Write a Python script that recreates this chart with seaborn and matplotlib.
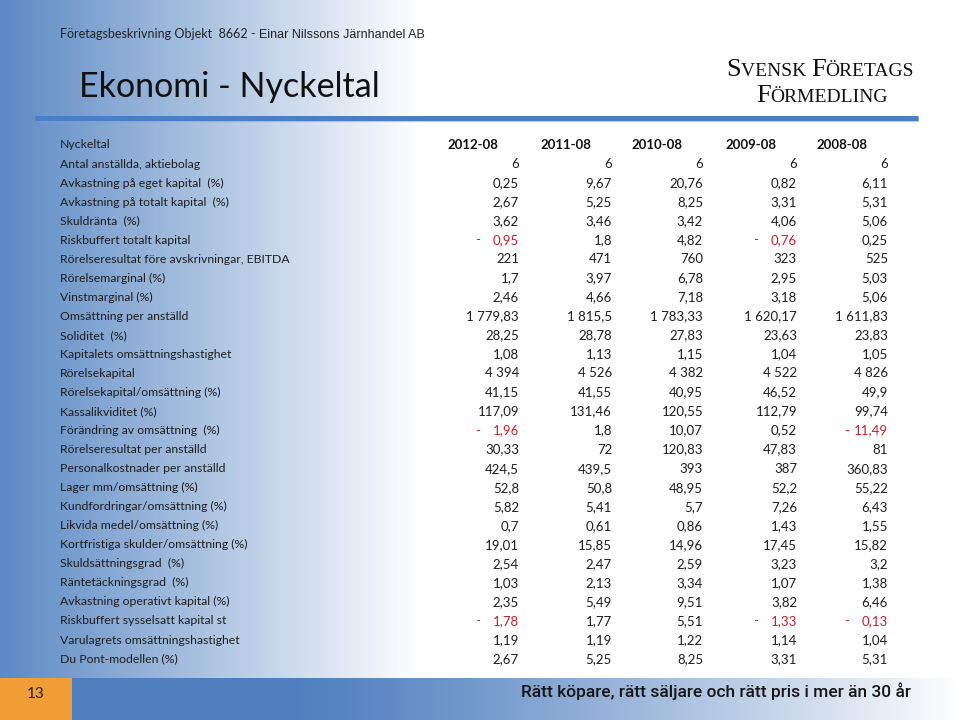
import numpy as np
import pandas as pd
import matplotlib
matplotlib.use("Agg")
import matplotlib.pyplot as plt
import seaborn as sns

# table data
years = ['2012-08', '2011-08', '2010-08', '2009-08', '2008-08']
labels = [
    'Antal anställda, aktiebolag',
    'Avkastning på eget kapital  (%)',
    'Avkastning på totalt kapital  (%)',
    'Skuldränta  (%)',
    'Riskbuffert totalt kapital',
    'Rörelseresultat före avskrivningar, EBITDA',
    'Rörelsemarginal (%)',
    'Vinstmarginal (%)',
    'Omsättning per anställd',
    'Soliditet  (%)',
    'Kapitalets omsättningshastighet',
    'Rörelsekapital',
    'Rörelsekapital/omsättning (%)',
    'Kassalikviditet (%)',
    'Förändring av omsättning  (%)',
    'Rörelseresultat per anställd',
    'Personalkostnader per anställd',
    'Lager mm/omsättning (%)',
    'Kundfordringar/omsättning (%)',
    'Likvida medel/omsättning (%)',
    'Kortfristiga skulder/omsättning (%)',
    'Skuldsättningsgrad  (%)',
    'Räntetäckningsgrad  (%)',
    'Avkastning operativt kapital (%)',
    'Riskbuffert sysselsatt kapital st',
    'Varulagrets omsättningshastighet',
    'Du Pont-modellen (%)',
]
v2012 = [6, 0.25, 2.67, 3.62, -0.95, 221, 1.7, 2.46, 1779.83, 28.25, 1.08, 4394, 41.15, 117.09,
         -1.96, 30.33, 424.5, 52.8, 5.82, 0.7, 19.01, 2.54, 1.03, 2.35, -1.78, 1.19, 2.67]
v2011 = [6, 9.67, 5.25, 3.46, 1.8, 471, 3.97, 4.66, 1815.5, 28.78, 1.13, 4526, 41.55, 131.46,
         1.8, 72, 439.5, 50.8, 5.41, 0.61, 15.85, 2.47, 2.13, 5.49, 1.77, 1.19, 5.25]
v2010 = [6, 20.76, 8.25, 3.42, 4.82, 760, 6.78, 7.18, 1783.33, 27.83, 1.15, 4382, 40.95, 120.55,
         10.07, 120.83, 393, 48.95, 5.7, 0.86, 14.96, 2.59, 3.34, 9.51, 5.51, 1.22, 8.25]
v2009 = [6, 0.82, 3.31, 4.06, -0.76, 323, 2.95, 3.18, 1620.17, 23.63, 1.04, 4522, 46.52, 112.79,
         0.52, 47.83, 387, 52.2, 7.26, 1.43, 17.45, 3.23, 1.07, 3.82, -1.33, 1.14, 3.31]
v2008 = [6, 6.11, 5.31, 5.06, 0.25, 525, 5.03, 5.06, 1611.83, 23.83, 1.05, 4826, 49.9, 99.74,
         -11.49, 81, 360.83, 55.22, 6.43, 1.55, 15.82, 3.2, 1.38, 6.46, -0.13, 1.04, 5.31]

df = pd.DataFrame({'Nyckeltal': labels, years[0]: v2012, years[1]: v2011,
                   years[2]: v2010, years[3]: v2009, years[4]: v2008})

sns.set_theme(style="white")
plt.rcParams['font.family'] = ['Lato', 'DejaVu Sans']


def fmt_sv(v):
    # swedish style: space as thousands separator, comma as decimal
    s = f"{abs(v):,.2f}".rstrip('0').rstrip('.')
    return s.replace(',', ' ').replace('.', ',')


fig = plt.figure(figsize=(9.6, 7.2), dpi=100)
ax = fig.add_axes([0, 0, 1, 1])
ax.set_xlim(0, 960)
ax.set_ylim(720, 0)
ax.axis('off')

# background: blue gradient fading to white on the left side
blue = np.array([0.36, 0.54, 0.77])
xs = np.linspace(0, 960, 960)
t = np.clip(xs / 420, 0, 1)
row = blue[None, :] * (1 - t[:, None]) + t[:, None]
ax.imshow(np.tile(row[None, :, :], (2, 1, 1)), extent=(0, 960, 720, 0), aspect='auto', zorder=0)

# horizontal rule under the title
ax.plot([36, 919], [120, 120], color='#9a9a9a', lw=3, alpha=0.5, solid_capstyle='butt', zorder=1)
ax.plot([35, 918], [117.5, 117.5], color='#4a7fc6', lw=3.6, solid_capstyle='butt', zorder=2)

# bottom bar
bx = np.linspace(0, 1, 900)
bb = np.clip((bx - 0.25) / 0.75, 0, 1) ** 1.2
bar_blue = np.array([0.31, 0.5, 0.75])
brow = bar_blue[None, :] * (1 - bb[:, None]) + bb[:, None]
ax.imshow(np.tile(brow[None, :, :], (2, 1, 1)), extent=(72, 960, 720, 678), aspect='auto', zorder=1)
ax.fill_between([0, 72], 678, 720, color='#f09e35', lw=0, zorder=2)
ax.text(36, 694, '13', ha='center', va='center', fontsize=11, color='#222222', zorder=3)
ax.text(911, 697, 'Rätt köpare, rätt säljare och rätt pris i mer än 30 år', ha='right', va='baseline',
        fontsize=12.5, fontfamily=['Liberation Sans Narrow', 'Roboto'], fontweight='medium',
        color='#151515', zorder=3)

# header texts
renderer = fig.canvas.get_renderer()
t1 = ax.text(60, 38, 'Företagsbeskrivning Objekt  8662 - ', fontsize=9, va='baseline', color='#222222')
w1 = t1.get_window_extent(renderer).width
ax.text(60 + w1, 38, 'Einar Nilssons Järnhandel AB', fontsize=9, va='baseline',
        fontfamily='Liberation Sans', color='#222222')
ax.text(79, 97, 'Ekonomi - Nyckeltal', fontsize=24.5, va='baseline', color='#111111')


def small_caps(xc, y, parts):
    # draw fake small caps centered at xc
    texts = []
    for s, size in parts:
        tx = ax.text(0, y, s, fontsize=size, va='baseline', fontfamily='Liberation Serif', color='#111111')
        texts.append(tx)
    widths = [tx.get_window_extent(renderer).width for tx in texts]
    x = xc - sum(widths) / 2
    for tx, w in zip(texts, widths):
        tx.set_x(x)
        x += w


small_caps(820, 76, [('S', 19), ('VENSK ', 14), ('F', 19), ('ÖRETAGS', 14)])
small_caps(822, 102, [('F', 19), ('ÖRMEDLING', 14)])

# table
y0, dy = 145, 19.04
col_right = [519, 612, 703, 797, 888]
txt_color = '#1e1e1e'
red = '#c8202a'
ax.text(60, y0, 'Nyckeltal', fontsize=8.8, va='center', color=txt_color)
for j, yr in enumerate(years):
    ax.text(col_right[j] - 21, y0, yr, fontsize=9.5, va='center', ha='right',
            fontweight='bold', color='#111111')
for i, lab in enumerate(df['Nyckeltal']):
    y = y0 + (i + 1) * dy
    ax.text(60, y, lab, fontsize=8.8, va='center', color=txt_color)
    for j, yr in enumerate(years):
        v = df[yr].iloc[i]
        c = red if v < 0 else txt_color
        ax.text(col_right[j], y, fmt_sv(v), fontsize=9.5, va='center', ha='right', color=c)
        if v < 0:
            ax.text(col_right[j] - 41, y, '-', fontsize=9.5, va='center', ha='center', color=c)

fig.savefig('out.png', dpi=100)
